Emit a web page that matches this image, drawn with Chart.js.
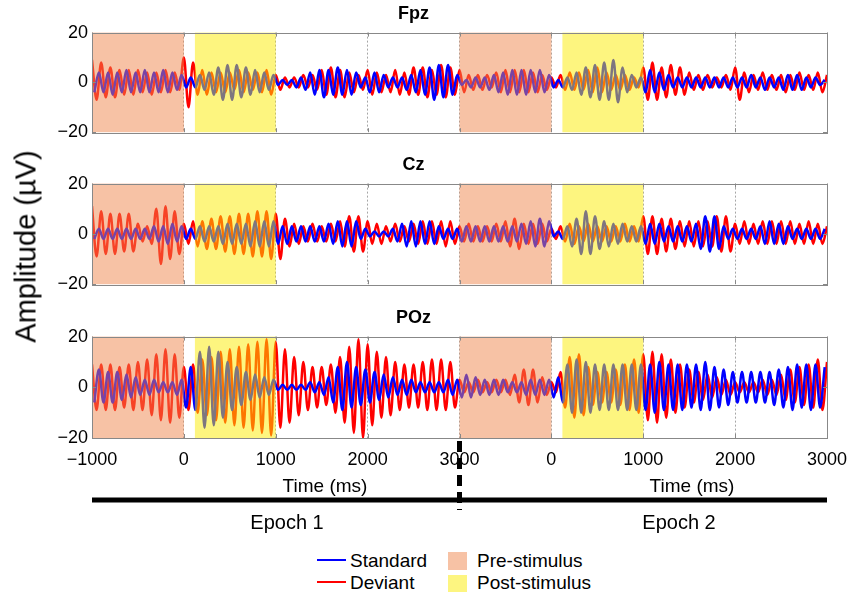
<!DOCTYPE html>
<html>
<head>
<meta charset="utf-8">
<script src="https://cdn.jsdelivr.net/npm/chart.js@4.4.1/dist/chart.umd.min.js"></script>
<style>
  body { margin: 0; background: #fff; font-family: 'Liberation Sans', Arial, sans-serif; }
  #page { position: relative; width: 849px; height: 592px; overflow: hidden; }
  .panel { position: absolute; left: 0; width: 849px; }
  .txt { position: absolute; white-space: nowrap; color: #000; line-height: 1; }
  .key-line { position: absolute; height: 2px; width: 29px; }
  .key-box { position: absolute; width: 19px; height: 18px; }
</style>
</head>
<body>
<div id="page">
  <div class="panel" style="top:0;height:147px"><canvas id="c0"></canvas></div>
  <div class="panel" style="top:151px;height:148px"><canvas id="c1"></canvas></div>
  <div class="panel" style="top:304px;height:240px"><canvas id="c2"></canvas></div>

  <div class="txt" style="left:-104px;top:232px;width:260px;height:29px;font-size:29px;text-align:center;transform:rotate(-90deg)">Amplitude (µV)</div>

  <div class="txt" style="left:245px;top:476px;width:160px;font-size:19px;text-align:center">Time (ms)</div>
  <div class="txt" style="left:612px;top:476px;width:160px;font-size:19px;text-align:center">Time (ms)</div>
  <div class="txt" style="left:207px;top:512px;width:160px;font-size:20px;text-align:center">Epoch 1</div>
  <div class="txt" style="left:599px;top:512px;width:160px;font-size:20px;text-align:center">Epoch 2</div>

  <div class="key-line" style="left:317px;top:559px;background:#0000ff"></div>
  <div class="key-line" style="left:317px;top:581px;background:#ff0000"></div>
  <div class="txt" style="left:350px;top:551px;font-size:19px">Standard</div>
  <div class="txt" style="left:350px;top:573px;font-size:19px">Deviant</div>
  <div class="key-box" style="left:448px;top:552px;background:rgb(247,194,165)"></div>
  <div class="key-box" style="left:448px;top:575px;background:rgb(253,245,128)"></div>
  <div class="txt" style="left:477px;top:551px;font-size:19px">Pre-stimulus</div>
  <div class="txt" style="left:477px;top:573px;font-size:19px">Post-stimulus</div>
</div>

<script>
// channels, one panel each
const channels = ['Fpz', 'Cz', 'POz'];

// time axis: two 4000 ms epochs laid end to end (epoch time -1000..3000)
const epochOffsets = [0, 4000];
const xTickLabels = ['−1000', '0', '1000', '2000', '3000', '0', '1000', '2000', '3000'];
const yTicks = [-20, 0, 20];
const preStimulus = [-1000, 0];
const postStimulus = [120, 1000];

// successive peaks/troughs (µV), one every 50 ms
const STEP = 50;
const deviantStart = 0;
const standardStart = 25;

const fpzDeviant = [
  9,-7,8,-6,6,-6,5,-5,5,-5,
  5,-4,4,-5,4,-4,5,-4,4,-3,
  10,-10,8,-5,5,-5,4,-4,4,-4,
  4,-3,5,-4,4,-3,4,-4,5,-5,
  3,-3,2,-2,2,-2,3,-2,3,-3,
  5,-5,6,-6,5,-6,4,-4,3,-3,
  5,-5,4,-4,3,-4,5,-5,4,-5,
  6,-5,6,-6,5,-5,7,-6,6,-5,
  5,-4,3,-3,3,-3,3,-2,4,-4,
  5,-4,5,-4,5,-4,4,-4,3,-3,
  2,-2,3,-3,4,-3,4,-3,5,-4,
  6,-4,4,-3,3,-3,3,-3,2,-2,
  6,-7,8,-7,6,-6,7,-5,6,-5,
  4,-3,3,-3,3,-2,2,-2,3,-3,
  6,-7,4,-4,3,-3,4,-3,3,-3,
  3,-4,3,-3,4,-3,3,-3,4,-4,
  3
];
const fpzStandard = [
  -4,4,-4,4,-5,4,-4,5,-4,4,
  -4,5,-4,4,-4,5,-4,4,-3,3,
  -2,2,-2,3,-3,4,-5,6,-7,7,
  -7,7,-6,6,-5,5,-4,4,-3,3,
  -1,1,-1,1,-2,2,-3,4,-5,5,
  -6,5,-5,6,-5,5,-5,4,-2,2,
  -4,4,-4,3,-2,2,-2,2,-3,3,
  -4,5,-5,6,-7,7,-6,7,-5,3,
  -1,1,-2,2,-2,2,-3,3,-4,4,
  -5,5,-5,5,-5,5,-4,5,-4,3,
  -2,1,-2,2,-3,4,-5,6,-6,7,
  -7,8,-7,9,-8,6,-4,3,-2,2,
  -4,5,-4,4,-3,3,-2,2,-2,2,
  -2,2,-2,2,-2,2,-2,2,-2,2,
  -2,2,-2,3,-2,2,-3,2,-2,2,
  -3,3,-3,3,-3,2,-2,2,-1,1
];

const czDeviant = [
  11,-9,9,-8,8,-8,8,-7,8,-7,
  4,-3,3,-4,10,-12,11,-10,9,-8,
  4,-4,5,-5,5,-6,6,-6,7,-7,
  7,-8,8,-8,8,-9,9,-9,9,-10,
  8,-10,6,-5,4,-4,3,-3,4,-3,
  3,-3,4,-3,5,-5,7,-7,7,-7,
  5,-4,4,-4,3,-3,4,-3,3,-3,
  4,-4,5,-4,5,-4,5,-5,5,-4,
  3,-3,4,-3,3,-3,3,-3,4,-3,
  5,-5,6,-6,4,-4,4,-4,4,-3,
  2,-2,3,-3,4,-4,3,-3,4,-3,
  3,-3,3,-3,3,-3,4,-3,3,-3,
  7,-8,7,-8,6,-7,6,-6,5,-5,
  5,-5,5,-5,5,-5,7,-7,7,-7,
  4,-4,5,-4,4,-4,5,-4,5,-4,
  5,-4,5,-4,4,-4,5,-4,4,-4,
  3
];
const czStandard = [
  -2,2,-2,2,-2,2,-2,2,-2,2,
  -2,2,-2,3,-3,3,-4,4,-3,3,
  -2,2,-2,3,-3,3,-3,3,-4,4,
  -4,4,-4,4,-5,5,-5,5,-5,5,
  -4,3,-4,3,-3,3,-3,3,-3,3,
  -3,4,-4,5,-5,5,-5,5,-2,2,
  -1,1,-1,1,-1,2,-3,4,-5,5,
  -5,5,-4,5,-4,3,-2,2,-2,2,
  -3,3,-3,3,-3,3,-3,3,-3,3,
  -3,3,-3,4,-4,5,-5,6,-5,5,
  -1,1,-2,3,-5,6,-8,9,-8,7,
  -6,5,-5,4,-4,4,-3,3,-3,3,
  -4,4,-4,4,-3,3,-3,3,-3,3,
  -3,4,-6,7,-7,7,-6,3,-2,2,
  -2,2,-2,2,-2,3,-4,5,-4,4,
  -4,3,-2,2,-2,2,-2,2,-2,2
];

const pozDeviant = [
  9,-9,9,-9,9,-9,8,-8,9,-9,
  10,-9,11,-11,13,-13,15,-14,13,-12,
  8,-9,9,-10,11,-11,12,-13,14,-14,
  15,-15,16,-16,17,-17,18,-18,19,-19,
  18,-16,15,-14,12,-11,10,-9,8,-8,
  8,-7,9,-10,12,-14,16,-18,19,-20,
  17,-15,14,-12,12,-11,10,-9,9,-8,
  9,-8,10,-9,11,-9,11,-9,10,-8,
  3,-2,2,-2,3,-2,2,-2,3,-2,
  3,-3,5,-6,7,-7,7,-6,4,-3,
  2,-2,6,-8,12,-12,13,-11,8,-7,
  6,-6,6,-6,7,-7,9,-9,11,-10,
  13,-13,14,-14,13,-12,11,-10,9,-8,
  7,-6,6,-5,5,-4,4,-3,3,-3,
  2,-2,2,-2,2,-2,3,-3,3,-3,
  5,-5,7,-6,8,-7,9,-8,11,-9,
  10
];
const pozStandard = [
  -6,7,-6,6,-6,6,-5,5,-4,4,
  -3,3,-3,3,-2,2,-2,2,-3,3,
  -8,8,-9,14,-16,16,-15,14,-12,10,
  -9,8,-7,6,-5,5,-4,4,-3,3,
  -1,1,-1,1,-1,1,-1,2,-2,2,
  -3,4,-6,8,-9,10,-8,8,-7,7,
  -6,6,-5,5,-4,4,-3,3,-3,3,
  -2,2,-2,2,-2,2,-2,3,-3,3,
  -4,5,-4,4,-3,3,-3,3,-3,3,
  -2,2,-2,2,-3,3,-3,3,-3,3,
  -4,4,-6,9,-10,11,-10,10,-10,9,
  -9,9,-9,9,-9,9,-9,9,-9,9,
  -9,9,-10,10,-9,9,-9,9,-9,9,
  -8,9,-9,10,-9,8,-8,7,-7,6,
  -6,6,-6,6,-6,6,-6,6,-7,7,
  -8,8,-9,9,-8,9,-9,9,-8,8
];

const standardSeries = [fpzStandard, czStandard, pozStandard];
const deviantSeries = [fpzDeviant, czDeviant, pozDeviant];

const FONT = "'Liberation Sans', Arial, sans-serif";
Chart.defaults.font.family = FONT;
Chart.defaults.color = '#000';

const preOverlay = 'rgba(239,133,75,0.5)';
const postOverlay = 'rgba(251,235,0,0.5)';

function toPoints(vals, t0) {
  return vals.map((v, i) => ({ x: t0 + i * STEP, y: v }));
}

// shading goes over the traces, like the transparent patches of the original
const shadePlugin = {
  id: 'shade',
  afterDatasetsDraw(chart) {
    const { ctx, chartArea: a, scales: { x } } = chart;
    ctx.save();
    epochOffsets.forEach(off => {
      [[preStimulus, preOverlay], [postStimulus, postOverlay]].forEach(([r, col]) => {
        const x1 = x.getPixelForValue(off + r[0] + 1000);
        const x2 = x.getPixelForValue(off + r[1] + 1000);
        ctx.fillStyle = col;
        ctx.fillRect(x1, a.top, x2 - x1, a.bottom - a.top);
      });
    });
    ctx.restore();
  },
  afterDraw(chart) {
    const { ctx, chartArea: a, scales: { x, y } } = chart;
    ctx.save();
    ctx.strokeStyle = '#888';
    ctx.lineWidth = 1;
    ctx.strokeRect(Math.round(a.left) + 0.5, Math.round(a.top) + 0.5,
      Math.round(a.right - a.left), Math.round(a.bottom - a.top));
    ctx.beginPath();
    x.ticks.forEach(t => {
      const px = Math.round(x.getPixelForValue(t.value)) + 0.5;
      ctx.moveTo(px, a.top); ctx.lineTo(px, a.top + 4);
      ctx.moveTo(px, a.bottom); ctx.lineTo(px, a.bottom - 4);
    });
    y.ticks.forEach(t => {
      const py = Math.round(y.getPixelForValue(t.value)) + 0.5;
      ctx.moveTo(a.left, py); ctx.lineTo(a.left + 4, py);
      ctx.moveTo(a.right, py); ctx.lineTo(a.right - 4, py);
    });
    ctx.stroke();
    ctx.restore();
  }
};

// thick epoch bar with the dashed divider, under the last panel
const epochBar = {
  id: 'epochBar',
  afterDraw(chart) {
    const { ctx, chartArea: a, scales: { x } } = chart;
    const xs = x.getPixelForValue(0), xe = x.getPixelForValue(8000);
    const xm = x.getPixelForValue(epochOffsets[1]);
    const barY = a.bottom + 62;
    ctx.save();
    ctx.strokeStyle = '#000';
    ctx.lineWidth = 5;
    ctx.beginPath();
    ctx.moveTo(xs, barY); ctx.lineTo(xe, barY);
    ctx.stroke();
    ctx.setLineDash([11, 6]);
    ctx.beginPath();
    ctx.moveTo(xm, a.bottom + 3); ctx.lineTo(xm, barY + 10);
    ctx.stroke();
    ctx.restore();
  }
};

channels.forEach((name, k) => {
  const last = k === channels.length - 1;
  new Chart(document.getElementById('c' + k), {
    type: 'line',
    data: {
      datasets: [
        {
          label: 'Standard',
          data: toPoints(standardSeries[k], standardStart),
          borderColor: '#0000ff',
        },
        {
          label: 'Deviant',
          data: toPoints(deviantSeries[k], deviantStart),
          borderColor: '#ff0000',
        }
      ]
    },
    options: {
      responsive: true,
      maintainAspectRatio: false,
      animation: false,
      events: [],
      layout: { padding: { left: 0, right: 22, top: 0, bottom: last ? 76 : 0 } },
      elements: {
        line: { borderWidth: 2.5, cubicInterpolationMode: 'monotone', borderJoinStyle: 'round' },
        point: { radius: 0 }
      },
      plugins: {
        legend: { display: false },
        tooltip: { enabled: false },
        title: {
          display: true,
          text: name,
          color: '#000',
          font: { size: 18, weight: 'bold' },
          padding: { top: 3, bottom: 8 }
        }
      },
      scales: {
        x: {
          type: 'linear',
          min: 0,
          max: 8000,
          afterFit(s) {
            s.height = last ? 30 : 12;
            s.paddingLeft = 0;
            s.paddingRight = 0;
          },
          ticks: {
            display: last,
            stepSize: 1000,
            maxRotation: 0,
            autoSkip: false,
            padding: 11,
            font: { size: 18 },
            callback: (v, i) => xTickLabels[i]
          },
          grid: { color: 'rgba(0,0,0,0.35)', drawTicks: false },
          border: { display: false, dash: [2, 2] }
        },
        y: {
          min: yTicks[0],
          max: yTicks[yTicks.length - 1],
          afterFit(s) { s.width = 92; },
          afterBuildTicks(s) { s.ticks = yTicks.map(v => ({ value: v })); },
          ticks: {
            padding: 4,
            font: { size: 18 },
            callback: v => (v < 0 ? '−' + Math.abs(v) : String(v))
          },
          grid: { display: false, drawTicks: false },
          border: { display: false }
        }
      }
    },
    plugins: last ? [shadePlugin, epochBar] : [shadePlugin]
  });
});
</script>
</body>
</html>
